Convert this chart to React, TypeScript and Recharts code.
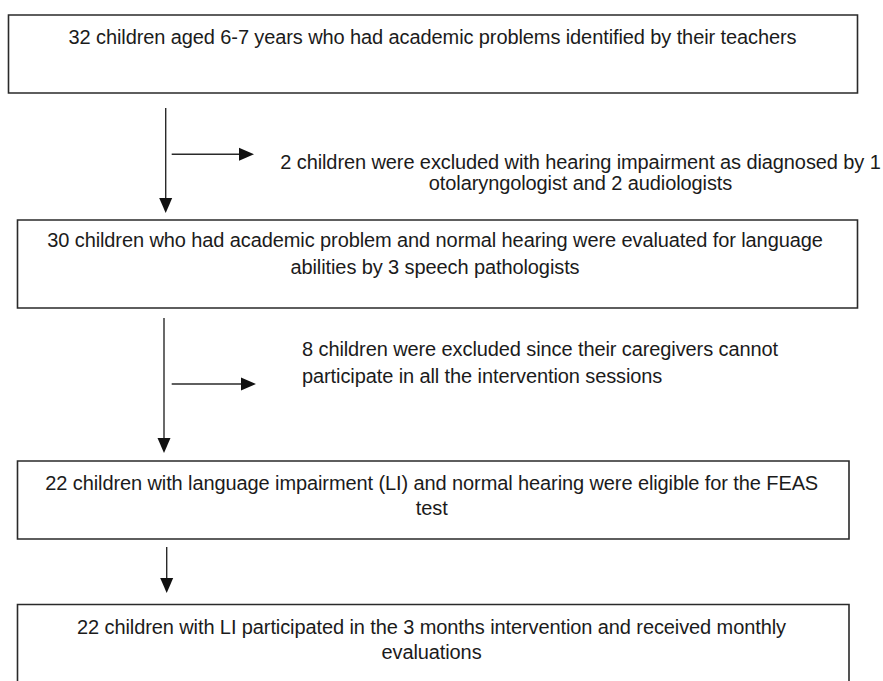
import React from 'react';
import { ComposedChart, XAxis, YAxis, ReferenceArea, ReferenceLine, Scatter } from 'recharts';

// Flowchart laid out in a page-unit coordinate space (x: 0..883, y: 0..681, y downward)
const boxes = [
  { id: 'enrolled', x1: 8.5, x2: 857.5, y1: 15, y2: 93 },
  { id: 'evaluated', x1: 17.5, x2: 857.5, y1: 220, y2: 308 },
  { id: 'eligible', x1: 17.5, x2: 849, y1: 461, y2: 539 },
  { id: 'participated', x1: 17.5, x2: 849, y1: 604.5, y2: 700 },
];

const boxLines = [
  { x: 432.5, y: 37, text: '32 children aged 6-7 years who had academic problems identified by their teachers' },
  { x: 435, y: 240, text: '30 children who had academic problem and normal hearing were evaluated for language' },
  { x: 435, y: 266.5, text: 'abilities by 3 speech pathologists' },
  { x: 431.7, y: 482.7, text: '22 children with language impairment (LI) and normal hearing were eligible for the FEAS' },
  { x: 431.7, y: 508.3, text: 'test' },
  { x: 431.5, y: 626.7, text: '22 children with LI participated in the 3 months intervention and received monthly' },
  { x: 431.5, y: 651.7, text: 'evaluations' },
];

const exclusionCentered = [
  { x: 580.5, y: 161.7, text: '2 children were excluded with hearing impairment as diagnosed by 1' },
  { x: 580.5, y: 183, text: 'otolaryngologist and 2 audiologists' },
];

const exclusionLeft = [
  { x: 302, y: 349, text: '8 children were excluded since their caregivers cannot' },
  { x: 302, y: 375.7, text: 'participate in all the intervention sessions' },
];

const flowArrows = [
  { from: { x: 165.7, y: 108 }, to: { x: 165.7, y: 213 } },
  { from: { x: 164, y: 318 }, to: { x: 164, y: 453 } },
  { from: { x: 166.7, y: 547 }, to: { x: 166.7, y: 593 } },
];

const exclusionArrows = [
  { from: { x: 171.7, y: 154.3 }, to: { x: 254, y: 154.3 } },
  { from: { x: 171.7, y: 384 }, to: { x: 256, y: 384 } },
];

const FONT = '"Liberation Sans", Arial, Helvetica, sans-serif';
const TEXT_COLOR = '#1b1b1b';
const LINE_COLOR = '#2a2a2a';

const ArrowShape = (props: any) => {
  const { x1, y1, x2, y2 } = props;
  const dx = x2 - x1;
  const dy = y2 - y1;
  const len = Math.sqrt(dx * dx + dy * dy) || 1;
  const ux = dx / len;
  const uy = dy / len;
  const headLen = 15;
  const halfW = 6.5;
  const bx = x2 - ux * headLen;
  const by = y2 - uy * headLen;
  const px = -uy;
  const py = ux;
  const pts = `${x2},${y2} ${bx + px * halfW},${by + py * halfW} ${bx - px * halfW},${by - py * halfW}`;
  return (
    <g>
      <line x1={x1} y1={y1} x2={bx + ux * 1} y2={by + uy * 1} stroke={LINE_COLOR} strokeWidth={1.4} />
      <polygon points={pts} fill="#111" />
    </g>
  );
};

const makeTextShape = (anchor: 'middle' | 'start') => (props: any) => {
  const { cx, cy, payload } = props;
  return (
    <text
      x={cx}
      y={cy}
      textAnchor={anchor}
      dominantBaseline="central"
      fontFamily={FONT}
      fontSize={20}
      letterSpacing={-0.1}
      fill={TEXT_COLOR}
    >
      {payload.text}
    </text>
  );
};

const CenterText = makeTextShape('middle');
const LeftText = makeTextShape('start');

export default function App() {
  return (
    <div style={{ position: 'absolute', left: 0, top: 0, background: '#fff' }}>
      <ComposedChart width={883} height={681} margin={{ top: 0, right: 0, bottom: 0, left: 0 }}>
        <XAxis type="number" dataKey="x" domain={[0, 883]} allowDataOverflow hide />
        <YAxis type="number" dataKey="y" domain={[0, 681]} allowDataOverflow reversed hide />
        {boxes.map((b) => (
          <ReferenceArea
            key={b.id}
            x1={b.x1}
            x2={b.x2}
            y1={b.y1}
            y2={b.y2}
            fill="#fff"
            fillOpacity={1}
            stroke={LINE_COLOR}
            strokeWidth={1.6}
            ifOverflow="visible"
          />
        ))}
        {flowArrows.map((a, i) => (
          <ReferenceLine key={`f${i}`} segment={[a.from, a.to]} shape={ArrowShape} ifOverflow="visible" />
        ))}
        {exclusionArrows.map((a, i) => (
          <ReferenceLine key={`e${i}`} segment={[a.from, a.to]} shape={ArrowShape} ifOverflow="visible" />
        ))}
        <Scatter data={boxLines} dataKey="y" shape={CenterText} isAnimationActive={false} />
        <Scatter data={exclusionCentered} dataKey="y" shape={CenterText} isAnimationActive={false} />
        <Scatter data={exclusionLeft} dataKey="y" shape={LeftText} isAnimationActive={false} />
      </ComposedChart>
    </div>
  );
}
